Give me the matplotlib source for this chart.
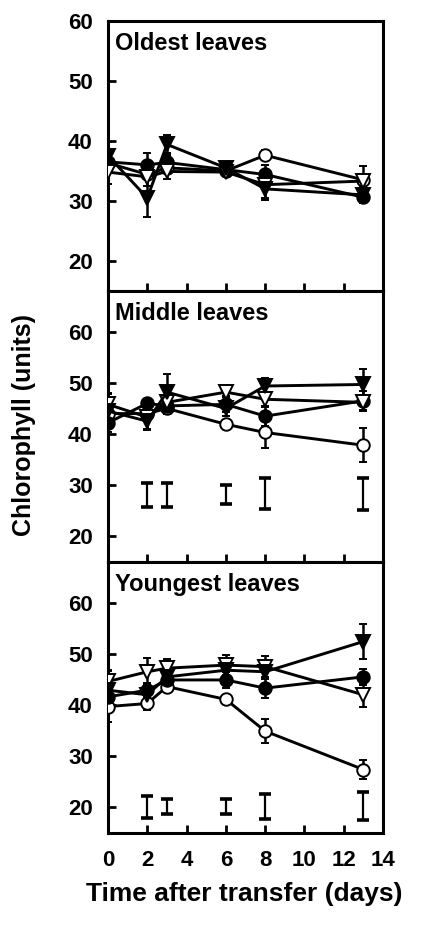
import matplotlib.pyplot as plt

plt.rcParams["font.family"] = ["Liberation Sans", "DejaVu Sans"]
plt.rcParams["font.weight"] = "bold"

# -------------------------------------------------
# Data (chlorophyll units)
# -------------------------------------------------
times = [0, 2, 3, 6, 8, 13]

old_open = [36.3, 34.4, 35.5, 35.0, 37.6, 33.5]
old_open_err = [0.8, 0.8, 0.8, 0.6, 0.8, 1.0]
old_fill = [36.5, 36.0, 36.4, 35.2, 34.4, 30.6]
old_fill_err = [1.2, 2.0, 1.2, 0.6, 1.5, 1.0]
old_otri = [34.8, 34.0, 34.9, 34.8, 32.7, 33.3]
old_otri_err = [2.0, 1.5, 1.2, 0.6, 2.5, 2.5]
old_ftri = [37.5, 30.5, 39.4, 35.5, 32.0, 31.0]
old_ftri_err = [2.3, 3.2, 1.5, 0.8, 1.5, 1.0]

mid_open = [44.0, 44.0, 45.0, 41.9, 40.3, 37.8]
mid_open_err = [1.0, 1.0, 1.0, 0.8, 3.0, 3.3]
mid_fill = [42.2, 46.0, 45.5, 45.8, 43.5, 46.5]
mid_fill_err = [1.8, 0.8, 1.5, 1.5, 2.0, 2.0]
mid_otri = [45.8, 43.3, 46.2, 48.2, 46.8, 46.2]
mid_otri_err = [2.0, 2.5, 1.0, 0.8, 1.5, 1.5]
mid_ftri = [44.5, 42.5, 48.2, 45.0, 49.4, 49.7]
mid_ftri_err = [3.5, 1.5, 3.5, 1.5, 1.6, 3.0]

yng_open = [39.7, 40.3, 43.6, 41.1, 34.9, 27.4]
yng_open_err = [3.0, 1.2, 0.8, 0.6, 2.3, 1.8]
yng_fill = [41.6, 42.9, 44.9, 44.9, 43.3, 45.5]
yng_fill_err = [1.5, 1.5, 1.5, 1.5, 2.0, 1.5]
yng_otri = [44.6, 46.5, 47.2, 47.8, 47.5, 42.0]
yng_otri_err = [2.0, 2.6, 1.8, 2.0, 2.0, 2.3]
yng_ftri = [42.9, 42.0, 45.5, 46.8, 46.5, 52.4]
yng_ftri_err = [4.0, 2.0, 1.5, 1.5, 1.5, 3.4]

# LSD bars (floating I-beams)
lsd_times = [2, 3, 6, 8, 13]
mid_lsd_center = [28.1, 28.1, 28.15, 28.35, 28.3]
mid_lsd_half = [2.4, 2.4, 1.95, 2.95, 3.1]
yng_lsd_center = [20.1, 20.2, 20.2, 20.2, 20.3]
yng_lsd_half = [2.1, 1.4, 1.4, 2.4, 2.8]

panels = [
    ("Oldest leaves", (15, 60),
     [(old_open, old_open_err), (old_fill, old_fill_err),
      (old_otri, old_otri_err), (old_ftri, old_ftri_err)], None),
    ("Middle leaves", (15, 68),
     [(mid_open, mid_open_err), (mid_fill, mid_fill_err),
      (mid_otri, mid_otri_err), (mid_ftri, mid_ftri_err)],
     (mid_lsd_center, mid_lsd_half)),
    ("Youngest leaves", (15, 68),
     [(yng_open, yng_open_err), (yng_fill, yng_fill_err),
      (yng_otri, yng_otri_err), (yng_ftri, yng_ftri_err)],
     (yng_lsd_center, yng_lsd_half)),
]

styles = [
    dict(marker="o", markerfacecolor="white", markersize=9),
    dict(marker="o", markerfacecolor="black", markersize=9),
    dict(marker="v", markerfacecolor="white", markersize=10),
    dict(marker="v", markerfacecolor="black", markersize=10),
]

# -------------------------------------------------
# Figure
# -------------------------------------------------
W, H = 421, 925
fig = plt.figure(figsize=(W / 100, H / 100), dpi=100)

left, right = 108 / W, 383 / W
edges = [20.7, 291.0, 561.7, 833.0]

axes = []
for i, (title, ylim, series, lsd) in enumerate(panels):
    top_px, bot_px = edges[i], edges[i + 1]
    ax = fig.add_axes([left, 1 - bot_px / H, right - left, (bot_px - top_px) / H])
    axes.append(ax)

    for (vals, err), st in zip(series, styles):
        ax.errorbar(times, vals, yerr=err, color="black", linewidth=2.1,
                    elinewidth=1.8, capsize=3, capthick=2.4,
                    markeredgecolor="black", markeredgewidth=1.4,
                    zorder=3, **st)

    if lsd is not None:
        ax.errorbar(lsd_times, lsd[0], yerr=lsd[1], fmt="none",
                    ecolor="black", elinewidth=1.6, capsize=4.5, capthick=2.6)

    ax.set_xlim(0, 14)
    ax.set_ylim(*ylim)
    ax.set_xticks(range(0, 15, 2))
    ax.set_yticks([20, 30, 40, 50, 60])
    ax.tick_params(direction="in", length=5.5, width=2, labelsize=16, pad=11)
    ax.tick_params(axis="x", pad=12)
    if i < 2:
        ax.tick_params(axis="x", labelbottom=False)
    for sp in ax.spines.values():
        sp.set_linewidth(2.2)

    ax.text(7 / 275, 1 - 11 / 270, title, transform=ax.transAxes,
            fontsize=17, fontweight="bold", va="top", ha="left")

fig.text(24 / W, 1 - 425 / H, "Chlorophyll (units)", rotation=90,
         fontsize=18, fontweight="bold", ha="center", va="center")
fig.text(244 / W, 1 - 894 / H, "Time after transfer (days)",
         fontsize=19, fontweight="bold", ha="center", va="center")

plt.savefig("out.png", dpi=100)
